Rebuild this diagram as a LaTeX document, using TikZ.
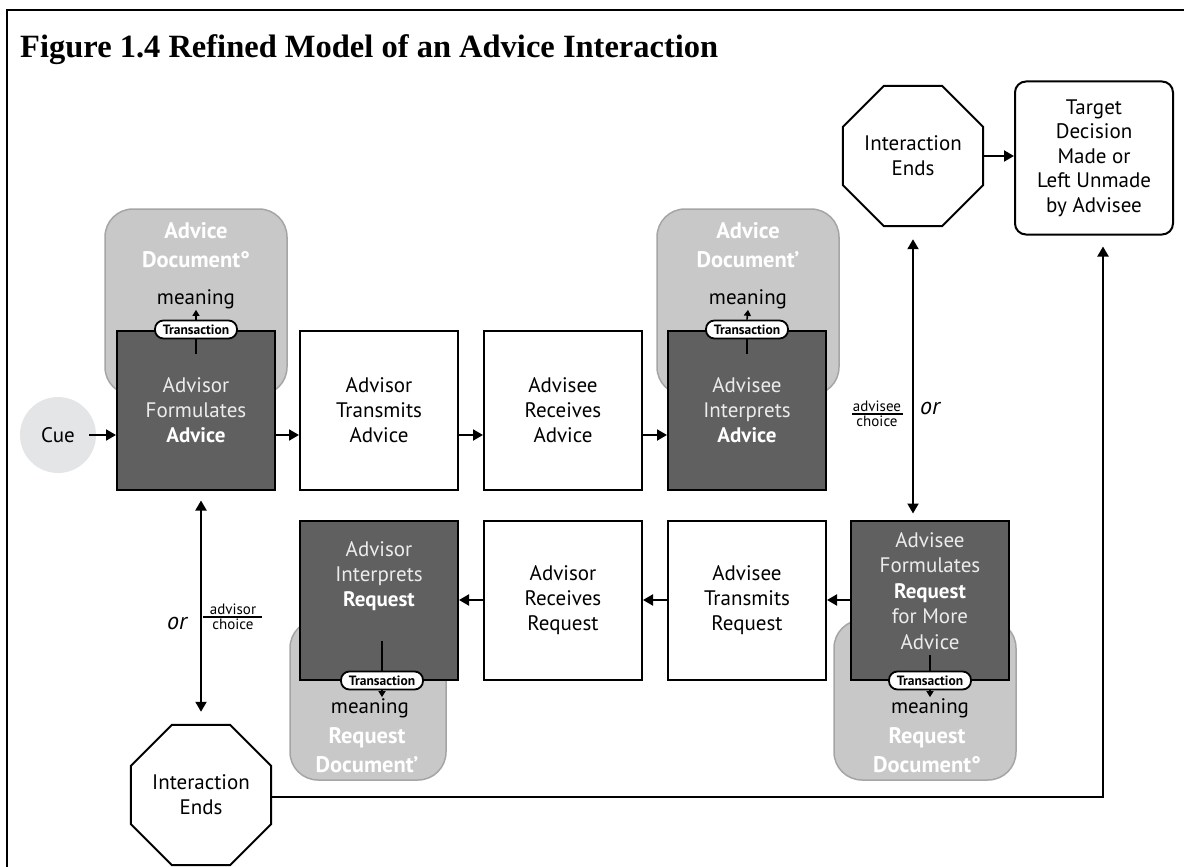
\documentclass[tikz,border=0pt]{standalone}
\usepackage{fontspec}
\setmainfont{PT Sans}
\newfontfamily\titlefont{Liberation Serif}
\usetikzlibrary{arrows.meta,shapes.geometric}

\definecolor{stepdark}{RGB}{96,96,96}
\definecolor{docfill}{RGB}{200,200,200}
\definecolor{docedge}{RGB}{165,165,165}
\definecolor{cuefill}{RGB}{228,229,231}
\definecolor{lighttext}{RGB}{236,236,236}

\tikzset{
  stepbox/.style={draw=black, line width=2pt, minimum width=158pt, minimum height=159pt,
    inner sep=0pt, align=center, font=\fontsize{21}{25}\selectfont},
  darkbox/.style={stepbox, fill=stepdark, text=lighttext},
  docbox/.style={draw=docedge, fill=docfill, line width=1.5pt, rounded corners=28pt, inner sep=0pt},
  doctext/.style={text=white, align=center, font=\bfseries\fontsize{22.5}{29}\selectfont},
  meaningtext/.style={font=\fontsize{21}{22}\selectfont, inner sep=1pt},
  pill/.style={draw=black, fill=white, line width=1.8pt, rounded corners=8.5pt,
    minimum width=82pt, minimum height=18pt, inner sep=0pt, font=\bfseries\fontsize{13.5}{14}\selectfont},
  octa/.style={draw=black, line width=2pt, regular polygon, regular polygon sides=8,
    minimum size=152pt, inner sep=0pt, align=center,
    font=\fontsize{21}{25}\selectfont},
  arr/.style={line width=2pt, -{Triangle[length=10pt,width=11pt]}},
  dbl/.style={line width=2pt, {Triangle[length=10pt,width=11pt]}-{Triangle[length=10pt,width=11pt]}},
  tinyarr/.style={line width=1.6pt, -{Triangle[length=6pt,width=7pt]}},
  stem/.style={line width=1.6pt},
  choicetext/.style={font=\fontsize{15}{16}\selectfont, inner sep=1pt},
  ortext/.style={font=\itshape\fontsize{24}{26}\selectfont, inner sep=0pt},
}

\begin{document}
\begin{tikzpicture}[x=1pt, y=-1pt]
\useasboundingbox (0,0) rectangle (1184,867);

% outer frame
\draw[line width=2.5pt] (7,900) -- (7,10) -- (1200,10);

% title
\node[anchor=base west, inner sep=0pt, font=\titlefont\bfseries\fontsize{32.5}{34}\selectfont]
  (title) at (20,58) {Figure 1.4 Refined Model of an Advice Interaction};

% documents behind the steps
\node[docbox, minimum width=182pt, minimum height=186pt] (doc1) at (196,302) {};
\node[docbox, minimum width=182pt, minimum height=186pt] (doc2) at (748,302) {};
\node[docbox, minimum width=156pt, minimum height=160pt] (doc3) at (368,700) {};
\node[docbox, minimum width=182pt, minimum height=160pt] (doc4) at (925,700) {};

\node[doctext] (d1t) at (196,245) {Advice\\Document°};
\node[doctext] (d2t) at (748,245) {Advice\\Document’};
\node[doctext] (d3t) at (367,750) {Request\\Document’};
\node[doctext] (d4t) at (927,750) {Request\\Document°};

\node[meaningtext] (m1) at (196,299) {meaning};
\node[meaningtext] (m2) at (748,299) {meaning};
\node[meaningtext] (m3) at (370,708) {meaning};
\node[meaningtext] (m4) at (930,708) {meaning};

% cue
\node[circle, fill=cuefill, minimum size=76pt, inner sep=0pt, font=\fontsize{21}{22}\selectfont] (cue) at (58,435) {Cue};

% advice row
\node[darkbox] (fa) at (196,410) {Advisor\\Formulates\\\textbf{\color{white}Advice}};
\node[stepbox, fill=white] (ta) at (379,410) {Advisor\\Transmits\\Advice};
\node[stepbox, fill=white] (ra) at (563,410) {Advisee\\Receives\\Advice};
\node[darkbox] (ia) at (747,410) {Advisee\\Interprets\\\textbf{\color{white}Advice}};

% request row
\node[darkbox] (fr) at (930,600) {};
\node[text=lighttext, align=center, font=\fontsize{21}{25.5}\selectfont] (frt) at (930,591)
  {Advisee\\Formulates\\\textbf{\color{white}Request}\\for More\\Advice};
\node[stepbox, fill=white] (tr) at (747,600) {Advisee\\Transmits\\Request};
\node[stepbox, fill=white] (rr) at (563,600) {Advisor\\Receives\\Request};
\node[darkbox] (ir) at (379,600) {};
\node[text=lighttext, align=center, font=\fontsize{21}{25}\selectfont] (irt) at (379,576)
  {Advisor\\Interprets\\\textbf{\color{white}Request}};

% transactions
\node[pill] (p1) at (fa.north) {Transaction};
\node[pill] (p2) at (ia.north) {Transaction};
\node[pill] (p3) at ([xshift=3pt]ir.south) {Transaction};
\node[pill] (p4) at (fr.south) {Transaction};

\draw[tinyarr] (p1.north) -- (m1.south);
\draw[stem] (p1.south) -- ++(0,15);
\draw[tinyarr] (p2.north) -- (m2.south);
\draw[stem] (p2.south) -- ++(0,15);
\draw[tinyarr] (p3.south) -- (p3.south |- m3.north);
\draw[stem] (p3.north) -- ++(0,-30);
\draw[tinyarr] (p4.south) -- (p4.south |- m4.north);
\draw[stem] (p4.north) -- ++(0,-16);

% end states
\node[octa] (oct1) at (913,156) {Interaction\\Ends};
\node[octa] (oct2) at (201,795) {Interaction\\Ends};
\node[draw=black, line width=2pt, rounded corners=11pt, minimum width=158pt, minimum height=153pt,
  inner sep=0pt, align=center, font=\fontsize{21}{24.5}\selectfont] (target) at (1094,158)
  {Target\\Decision\\Made or\\Left Unmade\\by Advisee};

% flow along the advice row
\draw[arr] ([xshift=-7pt]cue.east) -- (fa.west |- cue.east);
\draw[arr] ([yshift=-25pt]fa.east) -- ([yshift=-25pt]ta.west);
\draw[arr] ([yshift=-25pt]ta.east) -- ([yshift=-25pt]ra.west);
\draw[arr] ([yshift=-25pt]ra.east) -- ([yshift=-25pt]ia.west);

% flow along the request row
\draw[arr] (fr.west) -- (tr.east);
\draw[arr] (tr.west) -- (rr.east);
\draw[arr] (rr.west) -- (ir.east);

% choices
\coordinate (c1top) at ([yshift=-12pt]oct1.south);
\coordinate (c1bot) at ([yshift=6pt]fr.north);
\draw[dbl] (c1top) -- (c1top |- c1bot);
\coordinate (c2top) at ([yshift=-10pt]fa.south);
\coordinate (c2bot) at ([yshift=12pt]oct2.north);
\draw[dbl] (c2bot |- c2top) -- (c2bot);

\draw[arr] (oct1.east) -- (target.west |- oct1.east);
\coordinate (turn) at (1103,797);
\coordinate (tgtin) at ([yshift=-11pt]target.south);
\draw[arr] (oct2.east |- turn) -- (turn) -- (turn |- tgtin);

% choice labels
\node[choicetext, anchor=south] (adv1) at (877,413) {advisee};
\node[choicetext, anchor=north] (cho1) at (877,415) {choice};
\draw[line width=1.2pt] (852,414) -- (903,414);
\node[ortext] (or1) at (930,408) {or};

\node[choicetext, anchor=south] (adv2) at (233,616) {advisor};
\node[choicetext, anchor=north] (cho2) at (233,618) {choice};
\draw[line width=1.2pt] (203,617) -- (262,617);
\node[ortext] (or2) at (177,623) {or};
\end{tikzpicture}
\end{document}
